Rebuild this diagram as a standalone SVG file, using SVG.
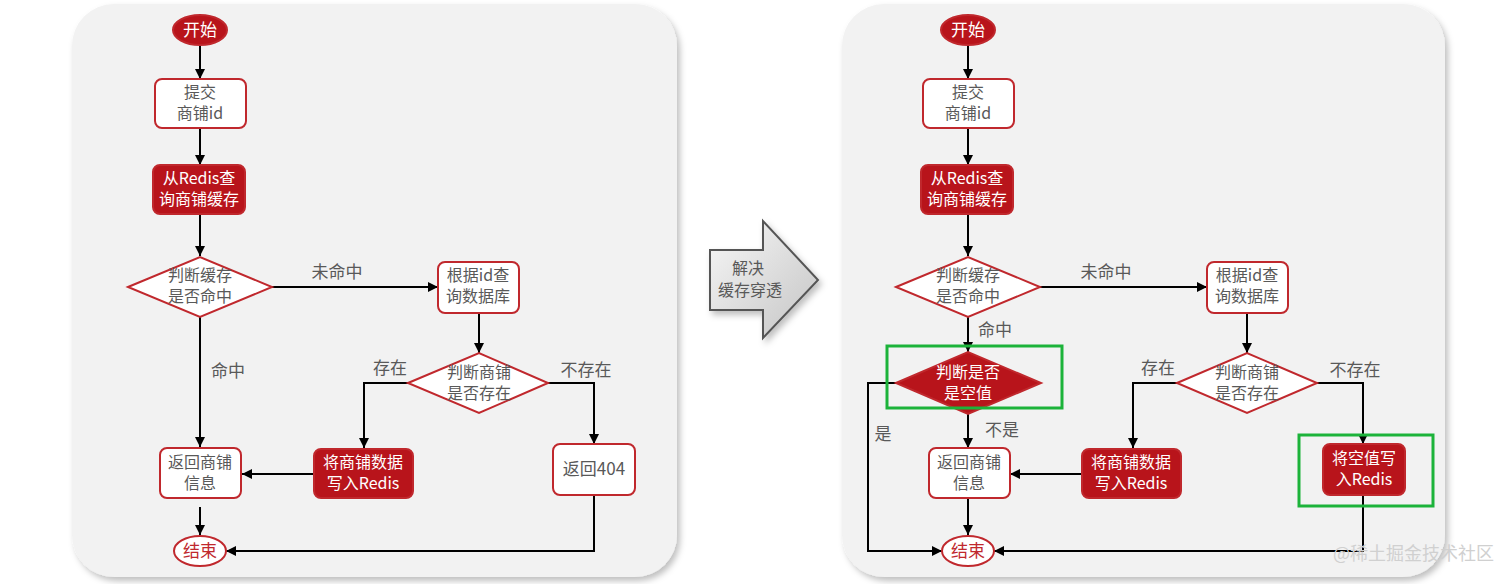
<svg xmlns="http://www.w3.org/2000/svg" width="1512" height="584" viewBox="0 0 1512 584">
<style>
text{font-family:"Noto Sans CJK SC","Liberation Sans",sans-serif;font-size:16px;text-anchor:middle;fill:#595959}
.panel{fill:#f2f2f2}
.wbox{fill:#ffffff;stroke:#c0282d;stroke-width:2}
.rbox{fill:#b8141b;stroke:#c0282d;stroke-width:2}
.rbox-t{fill:#ffffff}
.end-t{fill:#c0282d;font-size:17px}
.lbl{fill:#595959;font-size:17px}
.one{font-size:17px}
.edge{fill:none;stroke:#000;stroke-width:2}
.green{fill:none;stroke:#1cb33a;stroke-width:3}
.wm{fill:#d0d0d0;font-size:18px;text-anchor:start}
</style>
<defs>
<marker id="ah" markerWidth="10" markerHeight="10" refX="10" refY="5" orient="auto" markerUnits="userSpaceOnUse">
<path d="M0,0 L10,5 L0,10 z" fill="#000"/>
</marker>
<filter id="sh" x="-5%" y="-5%" width="115%" height="115%">
<feDropShadow dx="3" dy="4" stdDeviation="3" flood-color="#000" flood-opacity="0.25"/>
</filter>
<linearGradient id="ag" x1="0" y1="0" x2="1" y2="1">
<stop offset="0" stop-color="#f7f7f7"/>
<stop offset="1" stop-color="#c4c4c4"/>
</linearGradient>
</defs>
<rect width="1512" height="584" fill="#ffffff"/>

<!-- panels -->
<rect class="panel" x="72" y="4" width="605" height="573" rx="42" filter="url(#sh)"/>
<rect class="panel" x="842" y="4" width="603" height="573" rx="42" filter="url(#sh)"/>

<!-- middle arrow -->
<g id="solve-arrow">
<path d="M710,250 L763,250 L763,221 L818,280 L763,338 L763,310 L710,310 Z" fill="url(#ag)" stroke="#555" stroke-width="2" filter="url(#sh)"/>
<text x="748" y="274">解决</text>
<text x="750" y="296">缓存穿透</text>
</g>

<!-- connectors -->
<g id="connectors">
<!-- left -->
<path class="edge" d="M200,45 L200,79" marker-end="url(#ah)"/>
<path class="edge" d="M200,128 L200,165" marker-end="url(#ah)"/>
<path class="edge" d="M200,214 L200,256" marker-end="url(#ah)"/>
<path class="edge" d="M272,287 L438,287" marker-end="url(#ah)"/>
<path class="edge" d="M200,317 L200,447" marker-end="url(#ah)"/>
<path class="edge" d="M479,313 L479,353" marker-end="url(#ah)"/>
<path class="edge" d="M408,383 L364,383 L364,448" marker-end="url(#ah)"/>
<path class="edge" d="M548,383 L594,383 L594,444" marker-end="url(#ah)"/>
<path class="edge" d="M314,474 L242,474" marker-end="url(#ah)"/>
<path class="edge" d="M200,507 L200,535" marker-end="url(#ah)"/>
<path class="edge" d="M594,495 L594,551 L226,551" marker-end="url(#ah)"/>
<!-- right -->
<path class="edge" d="M968,45 L968,79" marker-end="url(#ah)"/>
<path class="edge" d="M968,128 L968,165" marker-end="url(#ah)"/>
<path class="edge" d="M968,214 L968,256" marker-end="url(#ah)"/>
<path class="edge" d="M1040,287 L1207,287" marker-end="url(#ah)"/>
<path class="edge" d="M968,317 L968,352" marker-end="url(#ah)"/>
<path class="edge" d="M896,383 L868,383 L868,551 L942,551" marker-end="url(#ah)"/>
<path class="edge" d="M968,414 L968,448" marker-end="url(#ah)"/>
<path class="edge" d="M1247,313 L1247,353" marker-end="url(#ah)"/>
<path class="edge" d="M1177,383 L1133,383 L1133,448" marker-end="url(#ah)"/>
<path class="edge" d="M1317,383 L1363,383 L1363,444" marker-end="url(#ah)"/>
<path class="edge" d="M1082,474 L1010,474" marker-end="url(#ah)"/>
<path class="edge" d="M968,498 L968,535" marker-end="url(#ah)"/>
<path class="edge" d="M1363,495 L1363,551 L994,551" marker-end="url(#ah)"/>
<!-- labels -->
<text class="lbl" x="337" y="278">未命中</text>
<text class="lbl" x="228" y="377">命中</text>
<text class="lbl" x="390" y="374">存在</text>
<text class="lbl" x="586" y="376">不存在</text>
<text class="lbl" x="1106" y="278">未命中</text>
<text class="lbl" x="995" y="336">命中</text>
<text class="lbl" x="1158" y="374">存在</text>
<text class="lbl" x="1355" y="376">不存在</text>
<text class="lbl" x="1002" y="436">不是</text>
<text class="lbl" x="883" y="440">是</text>
</g>

<!-- left panel nodes -->
<g id="L-start"><ellipse class="rbox" cx="200" cy="30" rx="27" ry="15"/><text class="rbox-t one" x="200" y="36">开始</text></g>
<g id="L-submit"><rect class="wbox" x="155" y="79" width="91" height="49" rx="7"/><text x="200" y="98">提交</text><text x="200" y="119">商铺id</text></g>
<g id="L-query-redis"><rect class="rbox" x="153" y="165" width="92" height="49" rx="7"/><text class="rbox-t" x="199" y="184">从Redis查</text><text class="rbox-t" x="199" y="205">询商铺缓存</text></g>
<g id="L-hit"><polygon class="wbox" points="128,287 200,257 272,287 200,317"/><text x="200" y="281">判断缓存</text><text x="200" y="302">是否命中</text></g>
<g id="L-query-db"><rect class="wbox" x="438" y="262" width="81" height="51" rx="7"/><text x="478" y="281">根据id查</text><text x="478" y="302">询数据库</text></g>
<g id="L-exists"><polygon class="wbox" points="408,383 479,353 548,383 479,413"/><text x="479" y="378">判断商铺</text><text x="479" y="399">是否存在</text></g>
<g id="L-return"><rect class="wbox" x="160" y="448" width="81" height="50" rx="7"/><text x="200" y="468">返回商铺</text><text x="200" y="489">信息</text></g>
<g id="L-write"><rect class="rbox" x="314" y="449" width="99" height="49" rx="7"/><text class="rbox-t" x="363" y="468">将商铺数据</text><text class="rbox-t" x="363" y="489">写入Redis</text></g>
<g id="L-404"><rect class="wbox" x="553" y="444" width="82" height="51" rx="7"/><text class="one" x="594" y="475">返回404</text></g>
<g id="L-end"><ellipse class="wbox" cx="200" cy="551" rx="26" ry="15"/><text class="end-t" x="200" y="557">结束</text></g>

<!-- right panel nodes -->
<g id="R-start"><ellipse class="rbox" cx="968" cy="30" rx="27" ry="15"/><text class="rbox-t one" x="968" y="36">开始</text></g>
<g id="R-submit"><rect class="wbox" x="923" y="79" width="91" height="49" rx="7"/><text x="968" y="98">提交</text><text x="968" y="119">商铺id</text></g>
<g id="R-query-redis"><rect class="rbox" x="921" y="165" width="92" height="49" rx="7"/><text class="rbox-t" x="967" y="184">从Redis查</text><text class="rbox-t" x="967" y="205">询商铺缓存</text></g>
<g id="R-hit"><polygon class="wbox" points="896,287 968,257 1040,287 968,317"/><text x="968" y="281">判断缓存</text><text x="968" y="302">是否命中</text></g>
<g id="R-null"><polygon class="rbox" points="896,383 968,352 1041,383 968,414"/><text class="rbox-t" x="968" y="378">判断是否</text><text class="rbox-t" x="968" y="399">是空值</text></g>
<g id="R-null-mark"><rect class="green" x="887" y="346" width="175" height="62"/></g>
<g id="R-query-db"><rect class="wbox" x="1207" y="262" width="81" height="51" rx="7"/><text x="1247" y="281">根据id查</text><text x="1247" y="302">询数据库</text></g>
<g id="R-exists"><polygon class="wbox" points="1177,383 1247,353 1317,383 1247,413"/><text x="1247" y="378">判断商铺</text><text x="1247" y="399">是否存在</text></g>
<g id="R-return"><rect class="wbox" x="929" y="448" width="81" height="50" rx="7"/><text x="969" y="468">返回商铺</text><text x="969" y="489">信息</text></g>
<g id="R-write"><rect class="rbox" x="1082" y="449" width="99" height="49" rx="7"/><text class="rbox-t" x="1131" y="468">将商铺数据</text><text class="rbox-t" x="1131" y="489">写入Redis</text></g>
<g id="R-write-null"><rect class="rbox" x="1323" y="444" width="82" height="51" rx="7"/><text class="rbox-t" x="1364" y="464">将空值写</text><text class="rbox-t" x="1364" y="485">入Redis</text></g>
<g id="R-write-null-mark"><rect class="green" x="1299" y="435" width="134" height="71"/></g>
<g id="R-end"><ellipse class="wbox" cx="968" cy="551" rx="26" ry="15"/><text class="end-t" x="968" y="557">结束</text></g>

<text class="wm" x="1333" y="560">@稀土掘金技术社区</text>
</svg>
